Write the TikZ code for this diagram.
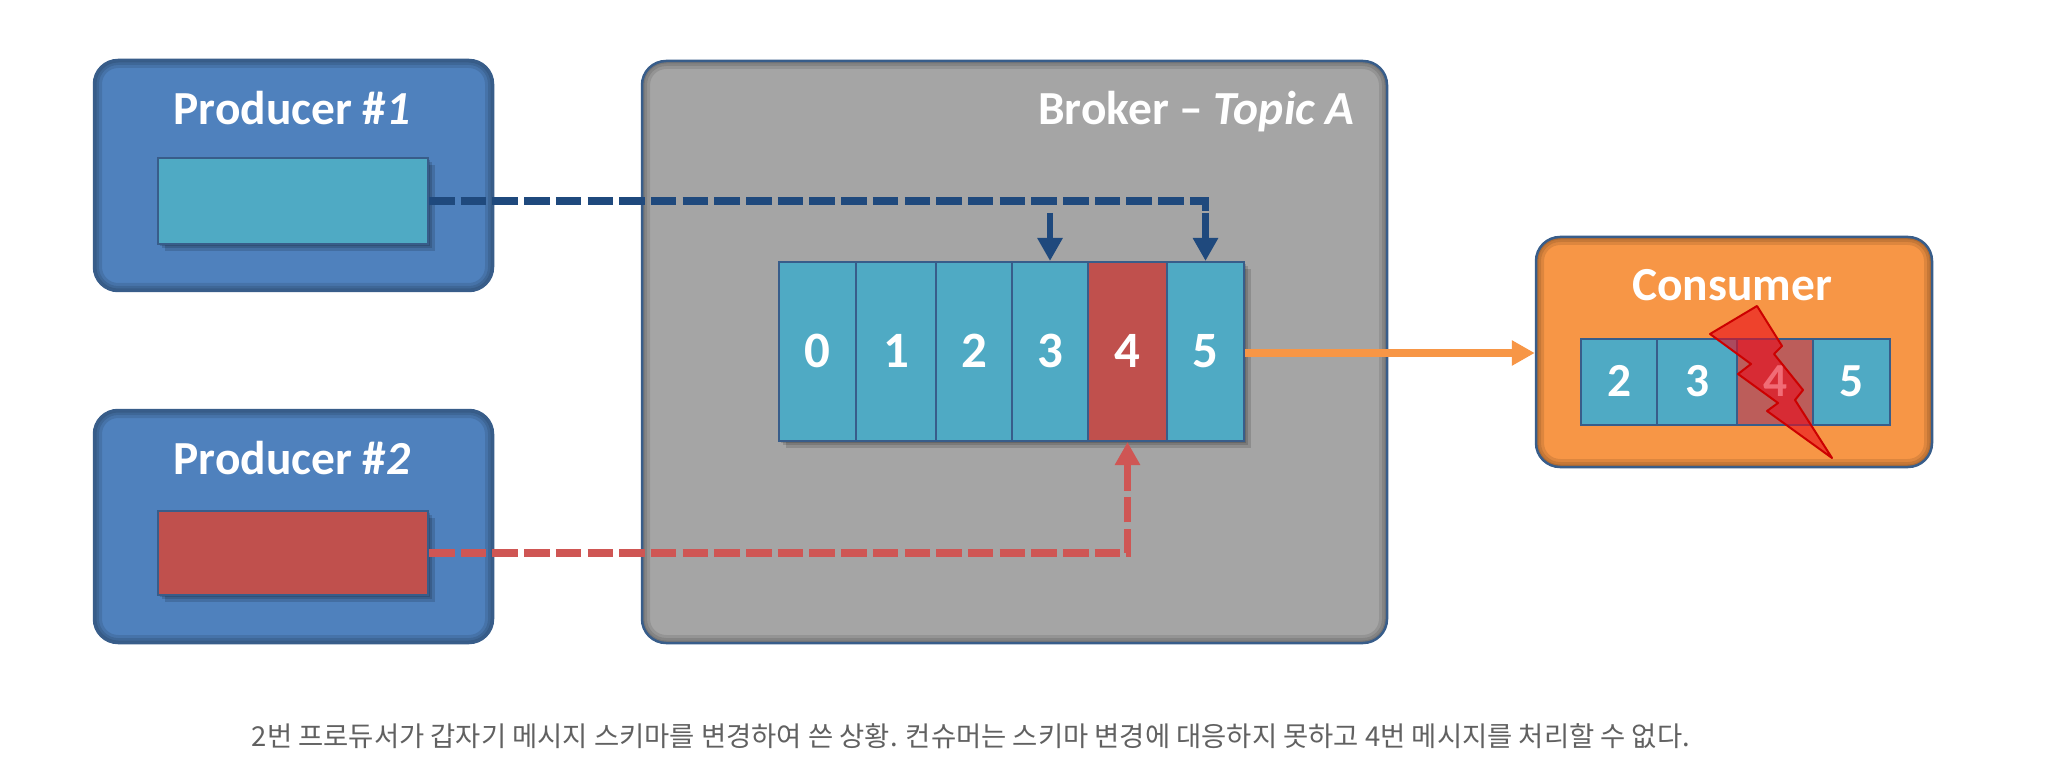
\documentclass[tikz,border=0pt]{standalone}
\usepackage{fontspec}
\setmainfont[Numbers=Lining]{Carlito}
\newfontfamily\cjkfont{Noto Sans CJK KR}
\usetikzlibrary{arrows.meta,shadows}

\definecolor{boxblue}{HTML}{4F81BD}
\definecolor{boxedge}{HTML}{385D8A}
\definecolor{cellblue}{HTML}{4FAAC4}
\definecolor{cellred}{HTML}{C0504D}
\definecolor{boxgrey}{HTML}{A5A5A5}
\definecolor{boxorange}{HTML}{F79646}
\definecolor{navyline}{HTML}{1F497D}
\definecolor{redline}{HTML}{CF5654}
\definecolor{boltred}{HTML}{E90A1B}
\def\u{0.02cm}

\begin{document}
\begin{tikzpicture}
  [x=0.02cm,y=-0.02cm,
  % Styles
  inner shade/.style={path picture={
    \foreach \lw in {5,10,16}
      \draw[black,opacity=.1,line width=\lw*\u,rounded corners=24*\u]
        (path picture bounding box.south west) rectangle (path picture bounding box.north east);}},
  soft shadow/.style={
    drop shadow={shadow xshift=2*\u,shadow yshift=-2*\u,fill=black,opacity=.14},
    drop shadow={shadow xshift=4*\u,shadow yshift=-4*\u,fill=black,opacity=.14},
    drop shadow={shadow xshift=7*\u,shadow yshift=-7*\u,fill=black,opacity=.14}},
  big box/.style={draw=boxedge,line width=2.5*\u,rounded corners=24*\u,inner sep=0pt,inner shade},
  inner box/.style={draw=boxedge,line width=2*\u,inner sep=0pt,soft shadow},
  cell box/.style={draw=boxedge,line width=2*\u,inner sep=0pt,text=white,text height=18pt,text depth=0pt,
    font=\fontsize{29}{29}\selectfont\bfseries},
  small cell/.style={cell box,text height=17pt,font=\fontsize{27}{27}\selectfont\bfseries},
  box title/.style={text=white,inner sep=0pt,font=\fontsize{27}{27}\selectfont\bfseries},
  dash line/.style={line width=7.5*\u,dash pattern=on 25.5*\u off 6.2*\u},
  big tip/.style={-{Triangle[length=23*\u,width=24*\u]}}]
  % The page
  \path[use as bounding box,fill=white] (0,0) rectangle (2048,773);
  % The boxes
  \node[big box,fill=boxgrey,minimum width=745*\u,minimum height=582*\u] (broker) at (1014.5,352) {};
  \node[big box,fill=boxblue,minimum width=399*\u,minimum height=231*\u] (prod1) at (293.5,175.5) {};
  \node[big box,fill=boxblue,minimum width=399*\u,minimum height=233*\u] (prod2) at (293.5,526.5) {};
  \node[big box,fill=boxorange,minimum width=396*\u,minimum height=230*\u] (consumer) at (1734,352) {};
  \node[box title] (prod1 title) at (292,108) {Producer \#\textit{1}};
  \node[box title] (prod2 title) at (292,458) {Producer \#\textit{2}};
  \node[box title,anchor=east] (broker title) at (1355,112) {Broker -- \textit{Topic A}};
  \node[box title] (consumer title) at (1732,285) {Consumer};
  \node[inner box,fill=cellblue,minimum width=270*\u,minimum height=86*\u] (msg1) at (293,201) {};
  \node[inner box,fill=cellred,minimum width=270*\u,minimum height=84*\u] (msg2) at (293,553) {};
  % The topic
  \foreach \n/\l/\r/\c in {0/779/856/cellblue,1/856/936/cellblue,2/936/1012/cellblue,
      3/1012/1088/cellblue,4/1088/1167/cellred,5/1167/1244/cellblue}
    \node[cell box,soft shadow,fill=\c,minimum width=(\r-\l)*\u,minimum height=179*\u]
      (cell\n) at ({(\l+\r)/2},351.5) {\n};
  % What the consumer holds
  \foreach \n/\l/\r/\c in {2/1581/1657/cellblue,3/1657/1737/cellblue,
      4/1737/1813/cellred!85!boxgrey,5/1813/1890/cellblue}
    \node[small cell,fill=\c,minimum width=(\r-\l)*\u,minimum height=86*\u]
      (held\n) at ({(\l+\r)/2},382) {\n};
  % The lightning
  \filldraw[fill=boltred,fill opacity=.6,draw=red!80!black,line width=2*\u,line join=round]
    (1710,334) -- (1757,306) -- (1782,346) -- (1774,354) -- (1803,390) -- (1795,400) -- (1832,458)
    -- (1767,411) -- (1778,403) -- (1738,374) -- (1751,364) -- cycle;
  % The connectors
  \coordinate (drop3) at (cell3.north |- 0,213);
  \coordinate (drop5) at (cell5.north |- 0,213);
  \draw[dash line,navyline] (msg1.east) -| (drop5);
  \draw[navyline,line width=6.5*\u,big tip] (drop3) -- (cell3.north);
  \draw[navyline,line width=6.5*\u,big tip] (drop5) -- (cell5.north);
  \draw[dash line,redline,big tip] (msg2.east) -| (cell4.south);
  \draw[boxorange,line width=8*\u,big tip] ([yshift=-1.5*\u]cell5.east) -- ([yshift=-1.5*\u]cell5.east -| consumer.west);
  % The caption
  \node[text=black!62,inner sep=0pt,font=\cjkfont\fontsize{15.6}{15.6}\selectfont] (caption) at (971,736)
    {2번 프로듀서가 갑자기 메시지 스키마를 변경하여 쓴 상황. 컨슈머는 스키마 변경에 대응하지 못하고 4번 메시지를 처리할 수 없다.};
\end{tikzpicture}
\end{document}
